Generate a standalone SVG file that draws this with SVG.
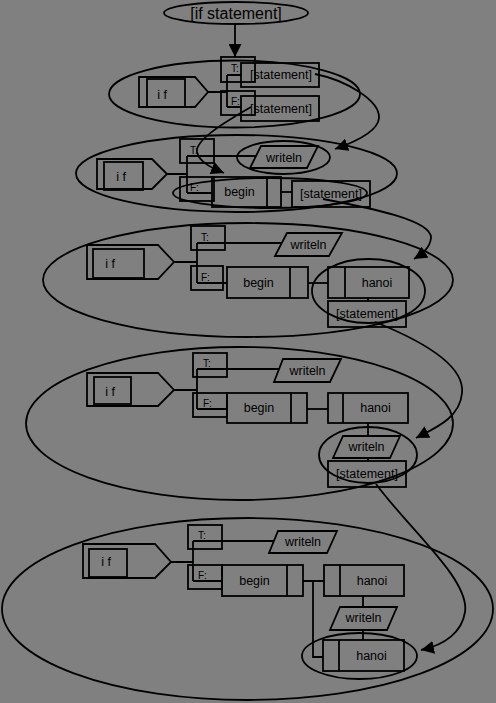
<svg xmlns="http://www.w3.org/2000/svg" width="496" height="703" viewBox="0 0 496 703">
<style>
.s{fill:none;stroke:#000;stroke-width:1.8}
.t{font-family:"Liberation Sans",Arial,sans-serif;font-size:12.5px;fill:#000;text-anchor:middle}
.tf{font-family:"Liberation Sans",Arial,sans-serif;font-size:10px;fill:#000}
.c{fill:none;stroke:#000;stroke-width:1.8}
</style>
<defs>
<marker id="ah" markerUnits="userSpaceOnUse" markerWidth="13" markerHeight="13" refX="10" refY="5" orient="auto" viewBox="0 0 10 10"><path d="M0,0 L10,5 L0,10 z" fill="#000"/></marker>
</defs>
<rect width="496" height="703" fill="#808080"/>

<g id="top">
<ellipse class="s" cx="236" cy="13" rx="72" ry="11"/>
<text class="t" x="236" y="19" style="font-size:16px">[if statement]</text>
</g>

<g id="level1">
<ellipse class="s" cx="234.5" cy="94" rx="125.5" ry="33.5"/>
<g id="l1-if"><polygon class="s" points="139,77 195,77 208,92 195,107 139,107"/><rect class="s" x="147" y="79" width="38" height="28"/><text class="t" x="162" y="99">i f</text></g>
<g id="l1-T"><rect class="s" x="221" y="57" width="34" height="25"/><text class="tf" x="231" y="72">T:</text></g>
<g id="l1-F"><rect class="s" x="221" y="91" width="34" height="24"/><text class="tf" x="231" y="105">F:</text></g>
<path class="s" d="M208,92 H227 M227,75 V107 M227,75 H241 M227,107 H241"/>
<g id="l1-st1"><rect class="s" x="241" y="63" width="78" height="24"/><text class="t" x="281" y="79">[statement]</text></g>
<g id="l1-st2"><rect class="s" x="241" y="96" width="78" height="25"/><text class="t" x="281" y="113">[statement]</text></g>
</g>

<g id="level2">
<ellipse class="s" cx="236.5" cy="173.5" rx="160.5" ry="38.5"/>
<g id="l2-if"><polygon class="s" points="97,159 152,159 167,174 152,189 97,189"/><rect class="s" x="104" y="162" width="39" height="28"/><text class="t" x="121" y="181">i f</text></g>
<g id="l2-T"><rect class="s" x="180" y="139" width="34" height="24"/><text class="tf" x="190" y="154">T:</text></g>
<g id="l2-F"><rect class="s" x="180" y="177" width="34" height="24"/><text class="tf" x="190" y="191">F:</text></g>
<path class="s" d="M167,174 H187 M187,156 V193 M187,156 H256 M187,193 H212"/>
<g id="l2-writeln"><polygon class="s" points="261,146 318,146 307,168 250,168"/><text class="t" x="284" y="162">writeln</text></g>
<ellipse class="s" cx="283.5" cy="157.5" rx="46.5" ry="16.5"/>
<g id="l2-begin"><rect class="s" x="212" y="177" width="69" height="30"/><path class="s" d="M267,177 V207"/><text class="t" x="239.5" y="196">begin</text></g>
<path class="s" d="M281,192 H292"/>
<g id="l2-st"><rect class="s" x="292" y="181" width="78" height="26"/><text class="t" x="331" y="198">[statement]</text></g>
<ellipse class="s" cx="270" cy="193" rx="97" ry="15"/>
</g>

<g id="level3">
<ellipse class="s" cx="248" cy="280" rx="205" ry="57"/>
<g id="l3-if"><polygon class="s" points="87,245 158,245 174,262 158,279 87,279"/><rect class="s" x="93" y="249" width="51" height="29"/><text class="t" x="110" y="268">i f</text></g>
<g id="l3-T"><rect class="s" x="191" y="226" width="34" height="24"/><text class="tf" x="201" y="241">T:</text></g>
<g id="l3-F"><rect class="s" x="191" y="266" width="32" height="24"/><text class="tf" x="201" y="281">F:</text></g>
<path class="s" d="M174,262 H197 M197,243 V283 M197,243 H282 M197,283 H227"/>
<g id="l3-writeln"><polygon class="s" points="287,233 342,233 329,256 275,256"/><text class="t" x="308.5" y="249">writeln</text></g>
<g id="l3-begin"><rect class="s" x="227" y="267" width="81" height="31"/><path class="s" d="M290,267 V298"/><text class="t" x="258.5" y="287">begin</text></g>
<path class="s" d="M308,283 H328"/>
<g id="l3-hanoi"><rect class="s" x="328" y="267" width="81" height="31"/><path class="s" d="M345,267 V298"/><text class="t" x="377" y="287">hanoi</text></g>
<path class="s" d="M368,298 V301"/>
<g id="l3-st"><rect class="s" x="328" y="301" width="78" height="26"/><text class="t" x="367" y="318">[statement]</text></g>
<ellipse class="s" cx="368.5" cy="291" rx="56.5" ry="32"/>
</g>

<g id="level4">
<ellipse class="s" cx="239.5" cy="423.5" rx="213.5" ry="76.5"/>
<g id="l4-if"><polygon class="s" points="87,373 158,373 174,390 158,406 87,406"/><rect class="s" x="94" y="377" width="37" height="27"/><text class="t" x="110" y="396">i f</text></g>
<g id="l4-T"><rect class="s" x="193" y="353" width="34" height="24"/><text class="tf" x="203" y="367">T:</text></g>
<g id="l4-F"><rect class="s" x="193" y="393" width="34" height="24"/><text class="tf" x="203" y="407">F:</text></g>
<path class="s" d="M174,390 H197 M197,369 V409 M197,369 H279 M197,409 H227"/>
<g id="l4-writeln"><polygon class="s" points="283,359 341,359 330,382 274,382"/><text class="t" x="307.5" y="375">writeln</text></g>
<g id="l4-begin"><rect class="s" x="227" y="393" width="80" height="30"/><path class="s" d="M291,393 V423"/><text class="t" x="259" y="412">begin</text></g>
<path class="s" d="M307,409 H328"/>
<g id="l4-hanoi"><rect class="s" x="328" y="393" width="80" height="30"/><path class="s" d="M343,393 V423"/><text class="t" x="375.5" y="412">hanoi</text></g>
<path class="s" d="M368,423 V436"/>
<g id="l4-writeln2"><polygon class="s" points="343,436 400,436 390,458 333,458"/><text class="t" x="366.5" y="451">writeln</text></g>
<path class="s" d="M368,458 V461"/>
<g id="l4-st"><rect class="s" x="328" y="461" width="78" height="26"/><text class="t" x="367" y="478">[statement]</text></g>
<ellipse class="s" cx="368" cy="455" rx="49" ry="28"/>
</g>

<g id="level5">
<ellipse class="s" cx="247.5" cy="609" rx="245.5" ry="91"/>
<g id="l5-if"><polygon class="s" points="83,544 155,544 171,562 155,578 83,578"/><rect class="s" x="89" y="549" width="38" height="28"/><text class="t" x="106" y="566">i f</text></g>
<g id="l5-T"><rect class="s" x="188" y="525" width="34" height="24"/><text class="tf" x="198" y="539">T:</text></g>
<g id="l5-F"><rect class="s" x="188" y="565" width="34" height="24"/><text class="tf" x="198" y="579">F:</text></g>
<path class="s" d="M171,562 H193 M193,541 V581 M193,541 H274 M193,581 H222"/>
<g id="l5-writeln"><polygon class="s" points="278,531 337,531 327,553 269,553"/><text class="t" x="303" y="546">writeln</text></g>
<g id="l5-begin"><rect class="s" x="222" y="565" width="81" height="31"/><path class="s" d="M287,565 V596"/><text class="t" x="254.5" y="585">begin</text></g>
<path class="s" d="M303,581 H324 M313,581 V657 H323"/>
<g id="l5-hanoi1"><rect class="s" x="324" y="565" width="80" height="31"/><path class="s" d="M340,565 V596"/><text class="t" x="372" y="585">hanoi</text></g>
<path class="s" d="M363,596 V607"/>
<g id="l5-writeln2"><polygon class="s" points="340,607 397,607 387,630 330,630"/><text class="t" x="363.5" y="622">writeln</text></g>
<path class="s" d="M363,630 V640"/>
<g id="l5-hanoi2"><rect class="s" x="323" y="640" width="81" height="31"/><path class="s" d="M339,640 V671"/><text class="t" x="371.5" y="660">hanoi</text></g>
<ellipse class="s" cx="359.5" cy="656" rx="57.5" ry="23"/>
</g>

<g id="connectors">
<path class="c" d="M235,24 V57" marker-end="url(#ah)"/>
<path class="c" d="M315,74 C345,80 380,100 379,118 C378,132 355,142 335,149" marker-end="url(#ah)"/>
<path class="c" d="M251,107 C225,122 195,140 197,152 C199,162 212,168 224,173" marker-end="url(#ah)"/>
<path class="c" d="M323,199 C370,208 432,220 431,238 C430,248 422,254 414,259" marker-end="url(#ah)"/>
<path class="c" d="M375,322 C420,340 465,365 462,393 C460,418 435,428 416,438" marker-end="url(#ah)"/>
<path class="c" d="M376,484 C410,530 470,580 465,612 C462,632 445,645 421,650" marker-end="url(#ah)"/>
</g>
</svg>
